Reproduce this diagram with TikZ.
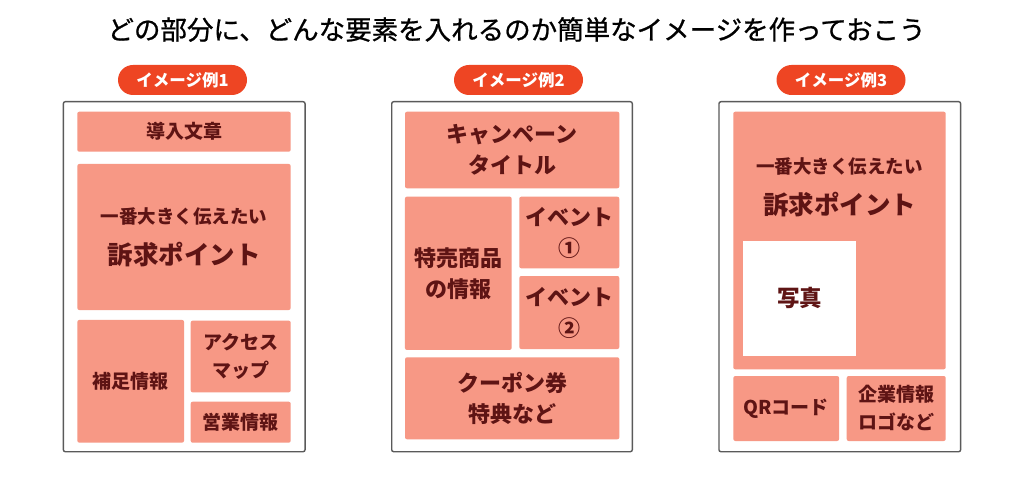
\documentclass[tikz,border=0pt]{standalone}
\usepackage{fontspec}
\setmainfont{Noto Sans CJK JP}
\newfontfamily\ttlfont[FakeBold=0.8]{Noto Sans CJK JP}
\definecolor{boxfill}{HTML}{F79885}
\definecolor{pillfill}{HTML}{EE4523}
\definecolor{txt}{HTML}{5E1414}
\definecolor{framec}{HTML}{5A5A5A}
\tikzset{
  frame/.style={draw=framec, line width=1.4pt, fill=white, rounded corners=2pt, inner sep=0pt},
  blk/.style={fill=boxfill, rounded corners=2pt, inner sep=0pt, text=txt, align=center, font=\bfseries\fontsize{19pt}{28pt}\selectfont},
  big/.style={blk, font=\bfseries\fontsize{22pt}{31pt}\selectfont},
  photo/.style={fill=white, inner sep=0pt, text=txt, font=\bfseries\fontsize{22.5pt}{26pt}\selectfont},
  pill/.style={fill=pillfill, rounded corners=15pt, minimum width=129pt, minimum height=30pt, inner sep=0pt, text=white, font=\bfseries\fontsize{16.5pt}{18pt}\selectfont},
  lead/.style={text=txt, inner sep=0pt, font=\bfseries\fontsize{18.5pt}{20pt}\selectfont},
  appeal/.style={text=txt, inner sep=0pt, font=\bfseries\fontsize{25.5pt}{28pt}\selectfont},
  title/.style={text=black, inner sep=0pt, font=\ttlfont\fontsize{26.5pt}{30pt}\selectfont}
}
\newcommand{\bx}[6]{\node[#1, minimum width=#4pt, minimum height=#5pt] (#2) at (#3) {#6};}
\begin{document}
\begin{tikzpicture}[x=1pt, y=-1pt]
\useasboundingbox (0,0) rectangle (1024,478);
\fill[white] (0,0) rectangle (1024,478);
\node[title] (ttl) at (516.5,29.5) {どの部分に、どんな要素を入れるのか簡単なイメージを作っておこう};

% Panel 1
\node[pill] (p1) at (182.5,80) {イメージ例1};
\bx{frame}{f1}{184.2,276.7}{241.7}{350}{}
\bx{blk}{intro}{184,131.7}{213.4}{40}{導入文章}
\bx{blk}{ap1}{184,237}{213.4}{146}{}
\node[lead] (ap1a) at (184,216.7) {一番大きく伝えたい};
\node[appeal] (ap1b) at (184,255) {訴求ポイント};
\bx{blk}{hosoku}{130.7,381.3}{106.7}{122.7}{補足情報}
\bx{blk}{access}{240.7,356.5}{100}{71.7}{アクセス\\マップ}
\bx{blk}{eigyo}{240.7,422.2}{100}{41}{営業情報}

% Panel 2
\node[pill] (p2) at (518.5,80) {イメージ例2};
\bx{frame}{f2}{512,276.7}{240.6}{350}{}
\bx{big}{camp}{512.2,150}{214.3}{76.6}{キャンペーン\\タイトル}
\bx{big}{toku}{458.3,273.3}{106.7}{153.3}{特売商品\\の情報}
\bx{big}{ev1}{569.3,232.5}{100}{71.6}{イベント\\①}
\bx{big}{ev2}{569.3,312.5}{100}{73}{イベント\\②}
\bx{big}{coupon}{512.2,398.3}{214.3}{82}{クーポン券\\特典など}

% Panel 3
\node[pill] (p3) at (841,80) {イメージ例3};
\bx{frame}{f3}{839.8,276.7}{241.7}{350}{}
\bx{blk}{ap3}{839.5,240.5}{212.4}{257.6}{}
\node[lead] (ap3a) at (839.5,166.7) {一番大きく伝えたい};
\node[appeal] (ap3b) at (839.5,205) {訴求ポイント};
\bx{photo}{pic}{799.5,298.2}{112.4}{115}{写真}
\bx{blk}{qr}{786.2,408.5}{105.7}{65}{QRコード}
\bx{blk}{kigyo}{896.2,408.5}{99}{65}{企業情報\\ロゴなど}
\end{tikzpicture}
\end{document}
